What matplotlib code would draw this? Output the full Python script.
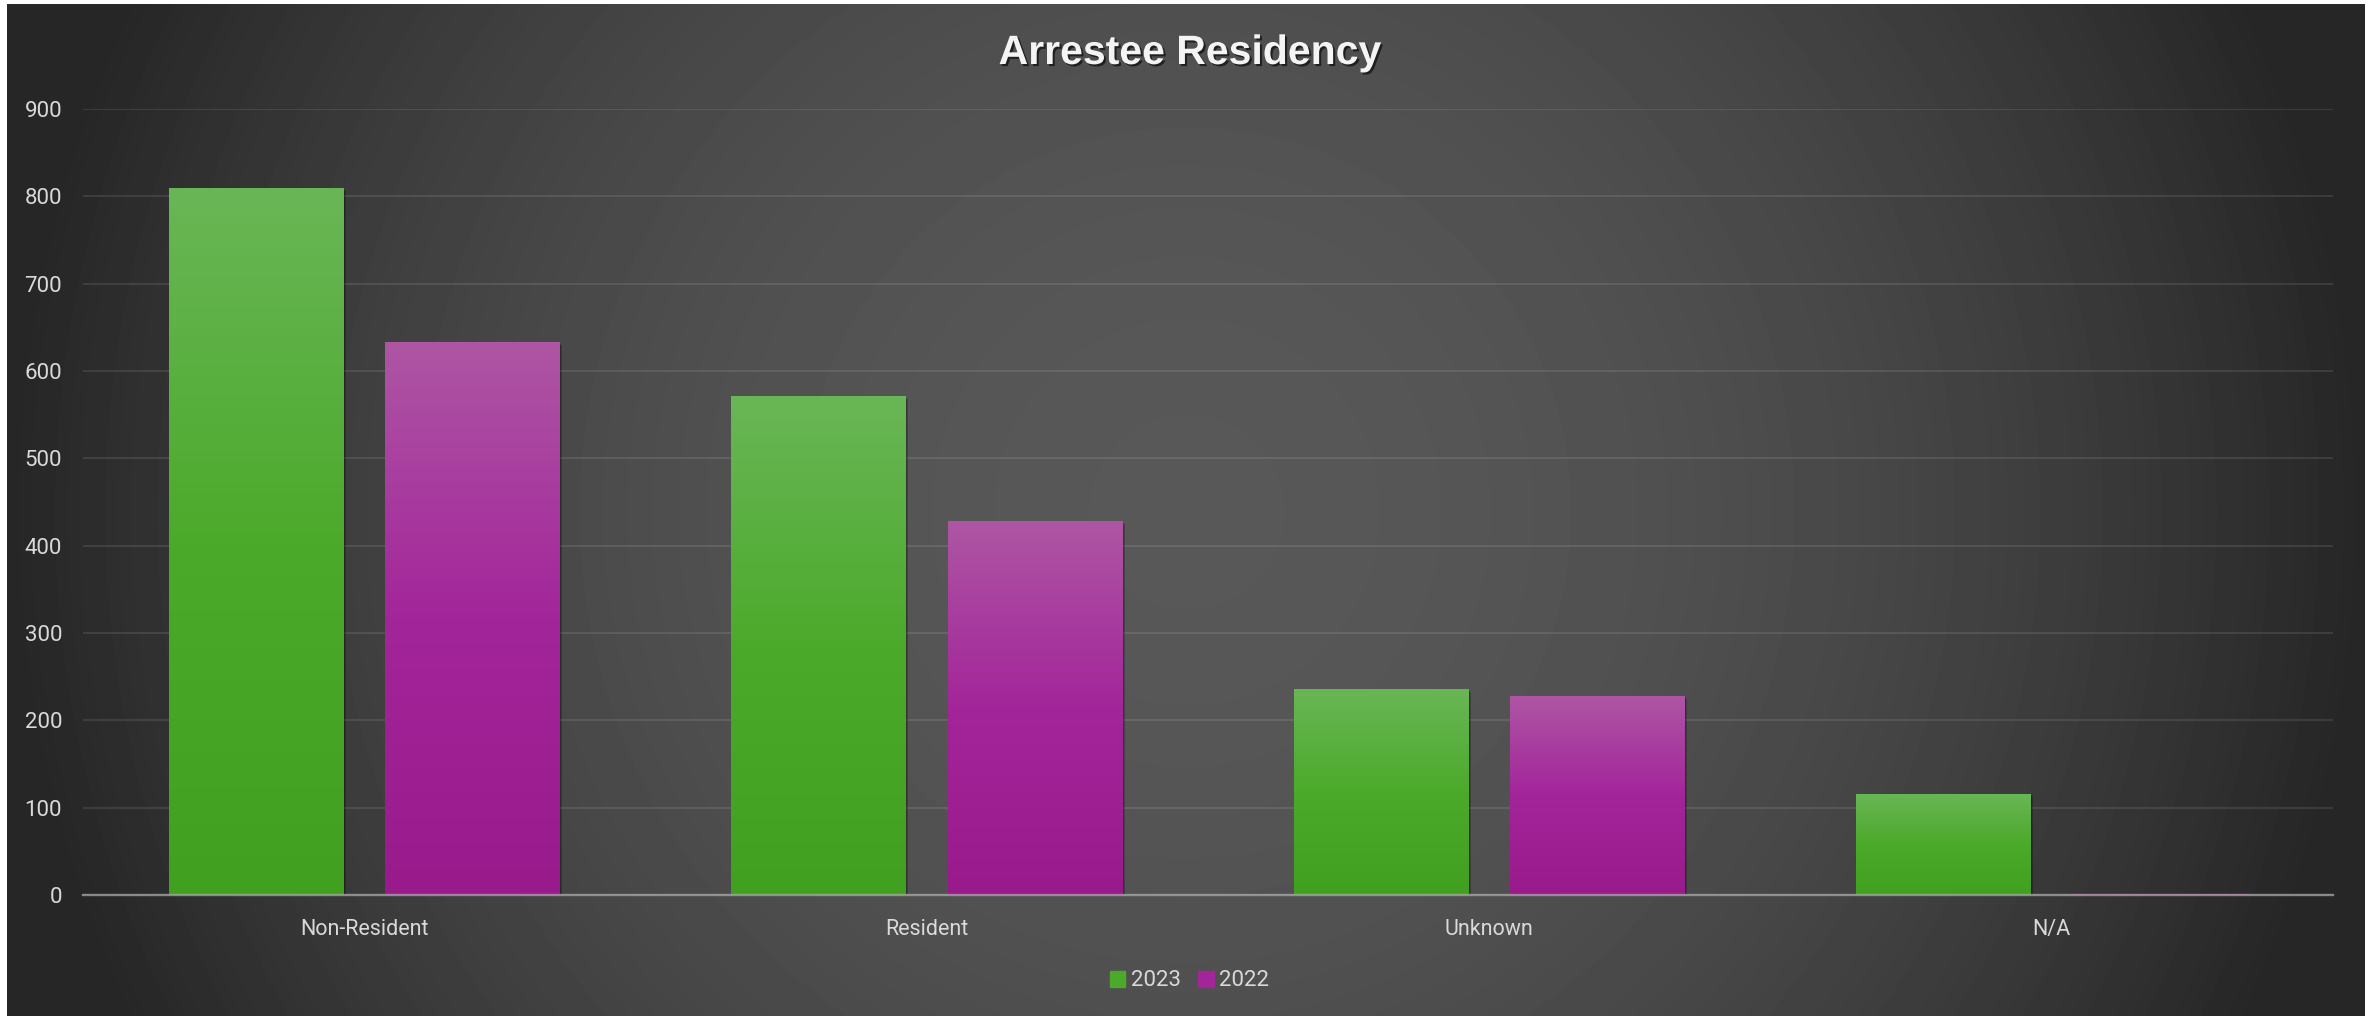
import numpy as np
import matplotlib.pyplot as plt
import matplotlib.patheffects as pe
from matplotlib.colors import LinearSegmentedColormap
from matplotlib.patches import Patch

categories = ["Non-Resident", "Resident", "Unknown", "N/A"]
years = ["2023", "2022"]
values_2023 = [809, 571, 236, 116]
values_2022 = [633, 428, 228, 1]
y_ticks = [0, 100, 200, 300, 400, 500, 600, 700, 800, 900]

green = ["#69b656", "#4caa2b", "#41a01f"]
magenta = ["#ae56a4", "#a3259a", "#981a8b"]
text_col = "#d9d9d9"

W, H = 2379, 1016
fig = plt.figure(figsize=(W / 100, H / 100), dpi=100, facecolor="white")

# radial grey background of the chart area
bg = fig.add_axes([7 / W, 0, (2365 - 7) / W, 1 - 4 / H])
bg.set_axis_off()
bw, bh = 2358, 1012
yy, xx = np.mgrid[0:bh:4, 0:bw:4]
r = np.hypot(xx - bw / 2, yy - bh / 2) / (bw / 2)
shade = 88 - 50 * np.clip(r, 0, 1) ** 2
bg.imshow(shade, cmap="gray", vmin=0, vmax=255, aspect="auto",
          extent=[0, 1, 0, 1], interpolation="bilinear")

ax = fig.add_axes([83 / W, 1 - 895 / H, (2333 - 83) / W, (895 - 109) / H])
ax.patch.set_alpha(0)

x = np.arange(len(categories))
width = 0.31
off = 0.1925
shadow = [pe.SimplePatchShadow(offset=(2, -2), shadow_rgbFace="black", alpha=0.22),
          pe.SimplePatchShadow(offset=(1, -1), shadow_rgbFace="black", alpha=0.2),
          pe.Normal()]

bars_a = ax.bar(x - off, values_2023, width, color=green[1], zorder=2, path_effects=shadow)
bars_b = ax.bar(x + off, values_2022, width, color=magenta[1], zorder=2, path_effects=shadow)


def fill_gradient(bars, stops):
    cmap = LinearSegmentedColormap.from_list("grad", stops)
    grad = np.linspace(0, 1, 256).reshape(-1, 1)
    for b in bars:
        x0 = b.get_x()
        im = ax.imshow(grad, cmap=cmap, aspect="auto", interpolation="bilinear",
                       extent=[x0, x0 + b.get_width(), 0, b.get_height()], zorder=3)
        im.set_clip_path(b)


fill_gradient(bars_a, green)
fill_gradient(bars_b, magenta)

ax.set_xlim(-0.5, len(categories) - 0.5)
ax.set_ylim(0, 900)
ax.set_yticks(y_ticks)
ax.set_xticks(x)
ax.set_xticklabels(categories, fontsize=15.5, family="Roboto", color=text_col)
for lbl in ax.get_yticklabels():
    lbl.set_fontsize(16)
    lbl.set_family("Roboto")
    lbl.set_color(text_col)
ax.tick_params(axis="both", length=0)
ax.tick_params(axis="x", pad=17)
ax.tick_params(axis="y", pad=15)

ax.yaxis.grid(True, color="white", alpha=0.1, lw=1.4)
ax.set_axisbelow(True)
for s in ["top", "left", "right"]:
    ax.spines[s].set_visible(False)
ax.spines["bottom"].set_color("#a8a8a8")
ax.spines["bottom"].set_linewidth(1.7)
ax.spines["bottom"].set_alpha(0.75)
ax.spines["bottom"].set_zorder(4)

fig.text(0.5, 1 - 53 / H, "Arrestee Residency", ha="center", va="center",
         fontsize=29.5, fontweight="bold", family="Liberation Sans", color="#f4f4f4",
         path_effects=[pe.SimplePatchShadow(offset=(1.5, -1.5), shadow_rgbFace="black", alpha=0.6), pe.Normal()])

handles = [Patch(color=green[1], label=years[0]), Patch(color=magenta[1], label=years[1])]
leg = ax.legend(handles=handles, loc="center", bbox_to_anchor=(0.5, 1 - 981 / H),
                bbox_transform=fig.transFigure, ncol=2, frameon=False,
                handlelength=0.7, handleheight=0.7, handletextpad=0.25, columnspacing=0.8,
                prop={"family": "Roboto", "size": 16})
for t in leg.get_texts():
    t.set_color(text_col)

fig.savefig("out.png", dpi=100)
